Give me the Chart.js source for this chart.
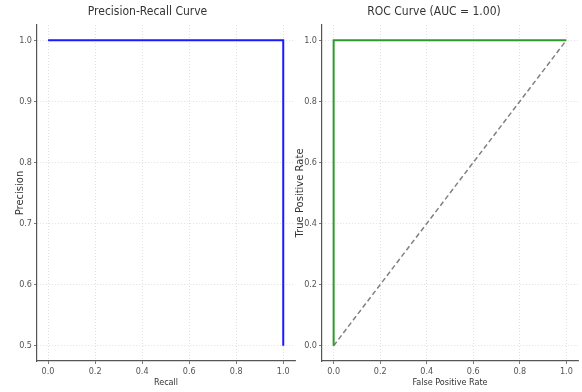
<!DOCTYPE html>
<html>
<head>
<meta charset="utf-8">
<script src="https://cdn.jsdelivr.net/npm/chart.js@4.4.0/dist/chart.umd.min.js"></script>
<style>
    html, body { margin: 0; padding: 0; background: #fff; }
    body { width: 582px; height: 392px; position: relative; overflow: hidden; }
    .panel { position: absolute; top: 0; height: 392px; }
    #prWrap { left: 0; width: 300px; }
    #rocWrap { left: 290px; width: 292px; }
</style>
</head>
<body>
<div class="panel" id="prWrap"><canvas id="prChart"></canvas></div>
<div class="panel" id="rocWrap"><canvas id="rocChart"></canvas></div>
<script>
// Dados da curva Precision-Recall
const recall = [0.0, 1.0, 1.0];
const precision = [1.0, 1.0, 0.5];

// Dados da curva ROC
const fpr = [0.0, 0.0, 1.0];
const tpr = [0.0, 1.0, 1.0];
const chanceX = [0.0, 1.0];
const chanceY = [0.0, 1.0];

// Ticks dos eixos
const xTicks = [0.0, 0.2, 0.4, 0.6, 0.8, 1.0];
const prYTicks = [0.5, 0.6, 0.7, 0.8, 0.9, 1.0];
const rocYTicks = [0.0, 0.2, 0.4, 0.6, 0.8, 1.0];

const condensed = "'DejaVu Sans Condensed', 'Liberation Sans Narrow', 'DejaVu Sans', sans-serif";

function toPoints(xs, ys) {
    return xs.map((x, i) => ({ x: x, y: ys[i] }));
}

function axis(ticks, min, max, title, fixedSize, isY, titleOffset) {
    return {
        type: 'linear',
        min: min,
        max: max,
        afterBuildTicks: scale => {
            scale.ticks = ticks.map(v => ({ value: v }));
        },
        afterFit: scale => {
            if (isY) scale.width = fixedSize;
            else scale.height = fixedSize;
        },
        ticks: {
            color: '#555',
            padding: 2,
            font: { family: condensed, size: 9 },
            callback: v => Number(v).toFixed(1)
        },
        grid: {
            color: '#d8d8d8',
            lineWidth: 0.8,
            tickLength: 3,
            tickColor: '#555'
        },
        border: {
            display: true,
            color: '#555',
            width: 1.2,
            dash: [1, 2]
        },
        title: {
            display: true,
            text: title,
            color: '#333',
            padding: isY ? { top: titleOffset, bottom: 0 } : { top: 0, bottom: titleOffset },
            font: isY ? { family: "'DejaVu Sans', sans-serif", size: 10 } : { family: condensed, size: 9 }
        }
    };
}

function titleOpts(text) {
    return {
        display: true,
        text: text,
        color: '#333',
        font: { family: condensed, size: 12, weight: 'normal', lineHeight: 1.2 },
        padding: { top: 5, bottom: 5.6 }
    };
}

function initializeCharts() {
    // Gráfico Precision-Recall
    new Chart(document.getElementById('prChart'), {
        type: 'line',
        data: {
            datasets: [{
                data: toPoints(recall, precision),
                borderColor: '#1a1aff',
                borderWidth: 2,
                pointRadius: 0,
                tension: 0,
                fill: false
            }]
        },
        options: {
            responsive: true,
            maintainAspectRatio: false,
            animation: false,
            layout: { padding: { left: 0, right: 5, top: 0, bottom: 0 } },
            plugins: {
                legend: { display: false },
                tooltip: { enabled: false },
                title: titleOpts('Precision-Recall Curve')
            },
            scales: {
                x: axis(xTicks, -0.047, 1.05, 'Recall', 31, false, 4),
                y: axis(prYTicks, 0.475, 1.025, 'Precision', 37, true, 14)
            }
        }
    });

    // Gráfico ROC
    new Chart(document.getElementById('rocChart'), {
        type: 'line',
        data: {
            datasets: [{
                data: toPoints(fpr, tpr),
                borderColor: '#2c9a2c',
                borderWidth: 2,
                pointRadius: 0,
                tension: 0,
                fill: false
            }, {
                data: toPoints(chanceX, chanceY),
                borderColor: '#808080',
                borderWidth: 1.5,
                borderDash: [5, 3],
                pointRadius: 0,
                tension: 0,
                fill: false
            }]
        },
        options: {
            responsive: true,
            maintainAspectRatio: false,
            animation: false,
            layout: { padding: { left: 0, right: 4, top: 0, bottom: 0 } },
            plugins: {
                legend: { display: false },
                tooltip: { enabled: false },
                title: titleOpts('ROC Curve (AUC = 1.00)')
            },
            scales: {
                x: axis(xTicks, -0.05, 1.05, 'False Positive Rate', 31, false, 4),
                y: axis(rocYTicks, -0.05, 1.05, 'True Positive Rate', 32, true, 4)
            }
        }
    });
}

document.addEventListener('DOMContentLoaded', initializeCharts);
</script>
</body>
</html>
